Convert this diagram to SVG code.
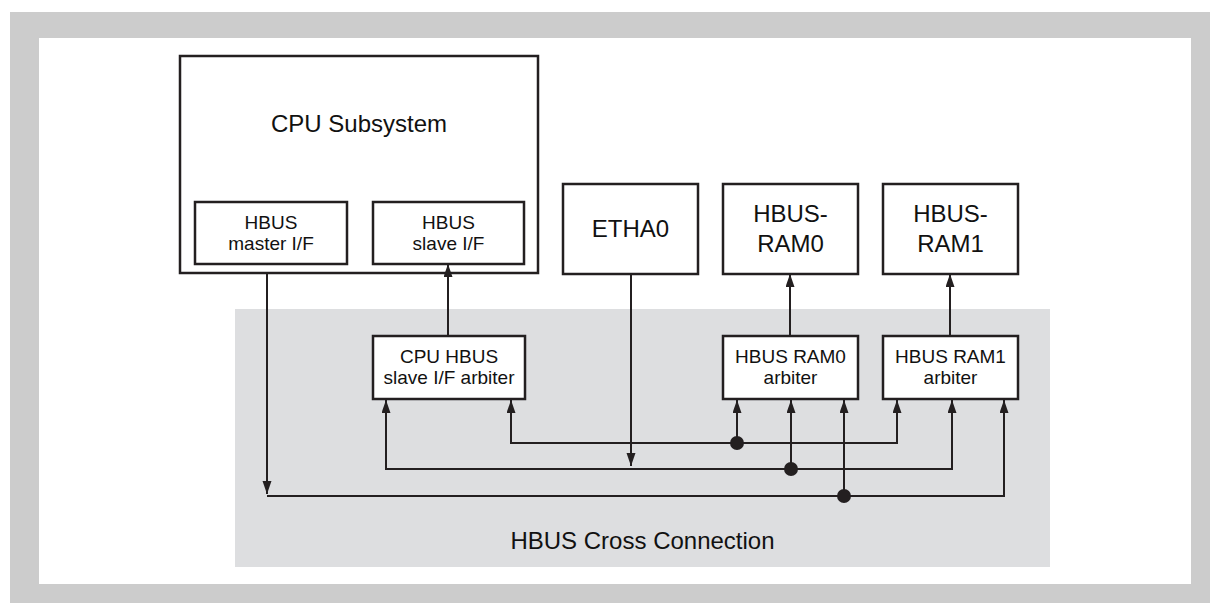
<svg xmlns="http://www.w3.org/2000/svg" width="1210" height="603" viewBox="0 0 1210 603">
  <style>
    .box { fill: #ffffff; stroke: #231f20; stroke-width: 2.5; }
    .wire { fill: none; stroke: #231f20; stroke-width: 2; }
    .dot { fill: #231f20; }
    .big { font-family: "Liberation Sans", Arial, sans-serif; font-size: 24px; fill: #111111; text-anchor: middle; }
    .small { font-family: "Liberation Sans", Arial, sans-serif; font-size: 19px; fill: #111111; text-anchor: middle; }
  </style>
  <defs>
    <marker id="arrow" markerUnits="userSpaceOnUse" markerWidth="14" markerHeight="10" refX="13" refY="4.5" orient="auto">
      <path d="M0,0 L13,4.5 L0,9 z" fill="#231f20"/>
    </marker>
  </defs>

  <!-- frame -->
  <rect x="10" y="12" width="1200" height="591" fill="#cccccc"/>
  <rect x="39" y="38" width="1152" height="546" fill="#ffffff"/>

  <!-- cross connection area -->
  <g id="cross-connection">
    <rect x="235" y="309" width="815" height="258" fill="#dddee0"/>
    <text class="big" x="642.5" y="549">HBUS Cross Connection</text>
  </g>

  <g id="cpu-subsystem">
    <rect class="box" x="180" y="56" width="358" height="217"/>
    <text class="big" x="359" y="132">CPU Subsystem</text>
  </g>
  <g id="hbus-master-if">
    <rect class="box" x="195" y="202" width="152" height="62"/>
    <text class="small" x="271" y="229">HBUS</text>
    <text class="small" x="271" y="250">master I/F</text>
  </g>
  <g id="hbus-slave-if">
    <rect class="box" x="373" y="202" width="151" height="62"/>
    <text class="small" x="448.5" y="229">HBUS</text>
    <text class="small" x="448.5" y="250">slave I/F</text>
  </g>
  <g id="etha0">
    <rect class="box" x="563" y="184" width="135" height="90"/>
    <text class="big" x="630.5" y="237">ETHA0</text>
  </g>
  <g id="hbus-ram0">
    <rect class="box" x="723" y="184" width="135" height="90"/>
    <text class="big" x="790.5" y="222">HBUS-</text>
    <text class="big" x="790.5" y="252">RAM0</text>
  </g>
  <g id="hbus-ram1">
    <rect class="box" x="883" y="184" width="135" height="90"/>
    <text class="big" x="950.5" y="222">HBUS-</text>
    <text class="big" x="950.5" y="252">RAM1</text>
  </g>
  <g id="cpu-arbiter">
    <rect class="box" x="373" y="336" width="152" height="63"/>
    <text class="small" x="449" y="363">CPU HBUS</text>
    <text class="small" x="449" y="384">slave I/F arbiter</text>
  </g>
  <g id="ram0-arbiter">
    <rect class="box" x="723" y="336" width="135" height="63"/>
    <text class="small" x="790.5" y="363">HBUS RAM0</text>
    <text class="small" x="790.5" y="384">arbiter</text>
  </g>
  <g id="ram1-arbiter">
    <rect class="box" x="883" y="336" width="135" height="63"/>
    <text class="small" x="950.5" y="363">HBUS RAM1</text>
    <text class="small" x="950.5" y="384">arbiter</text>
  </g>

  <g id="connectors">
    <!-- arbiter outputs to targets -->
    <path class="wire" d="M448,336 V264" marker-end="url(#arrow)"/>
    <path class="wire" d="M790,336 V274" marker-end="url(#arrow)"/>
    <path class="wire" d="M950,336 V274" marker-end="url(#arrow)"/>

    <!-- ETHA0 master -->
    <path class="wire" d="M631,274 V466" marker-end="url(#arrow)"/>
    <!-- CPU master -->
    <path class="wire" d="M267,273 V494" marker-end="url(#arrow)"/>

    <!-- bus 1 -->
    <path class="wire" d="M737,443 H511 V400" marker-end="url(#arrow)"/>
    <path class="wire" d="M737,443 H897 V400" marker-end="url(#arrow)"/>
    <path class="wire" d="M737,443 V400" marker-end="url(#arrow)"/>
    <circle class="dot" cx="737" cy="443" r="7"/>

    <!-- bus 2 -->
    <path class="wire" d="M791,469 H386 V400" marker-end="url(#arrow)"/>
    <path class="wire" d="M791,469 H952 V400" marker-end="url(#arrow)"/>
    <path class="wire" d="M791,469 V400" marker-end="url(#arrow)"/>
    <circle class="dot" cx="791" cy="469" r="7"/>

    <!-- bus 3 -->
    <path class="wire" d="M844,496 H267"/>
    <path class="wire" d="M844,496 H1004 V400" marker-end="url(#arrow)"/>
    <path class="wire" d="M844,496 V400" marker-end="url(#arrow)"/>
    <circle class="dot" cx="844" cy="496" r="7"/>
  </g>
</svg>
